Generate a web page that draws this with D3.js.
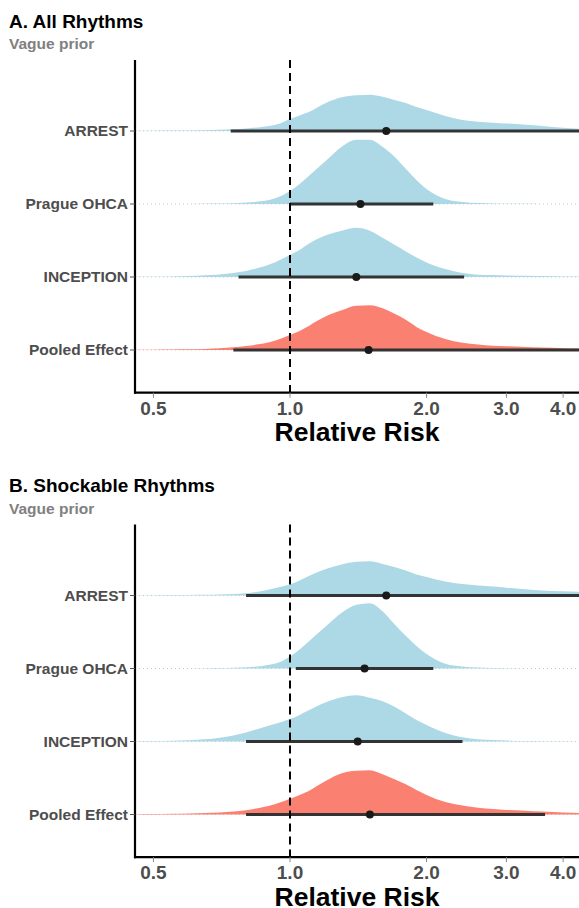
<!DOCTYPE html>
<html>
<head>
<meta charset="utf-8">
<script src="https://cdn.jsdelivr.net/npm/d3@7"></script>
<style>
  body { margin: 0; background: #fff; }
  text { font-family: "Liberation Sans", Arial, Helvetica, sans-serif; font-weight: bold; }
</style>
</head>
<body>
<div id="app"></div>
<script>
// study rows, top to bottom
const studies = ["ARREST", "Prague OHCA", "INCEPTION", "Pooled Effect"]
const xTicks = [0.5, 1, 2, 3, 4]
const xTickLabels = ["0.5", "1.0", "2.0", "3.0", "4.0"]

// relative risk grid where the densities were read
const rrGrid = [0.45, 0.5, 0.55, 0.6, 0.65, 0.7, 0.75, 0.8, 0.85, 0.9, 0.95, 1.0, 1.05, 1.1, 1.2, 1.3, 1.4, 1.5, 1.6, 1.7, 1.8, 1.9, 2.0, 2.2, 2.4, 2.6, 2.8, 3.0, 3.3, 3.6, 4.0, 4.4]

// A. all rhythms - posterior densities
const densAllArrest = [0.2, 0.3, 0.4, 0.6, 0.8, 1.2, 1.8, 2.6, 3.6, 5.0, 7.5, 12, 15.5, 19, 28, 33.5, 35.5, 36, 34, 31, 28, 24, 21, 15, 11, 9.3, 8.3, 7.5, 6.2, 5, 3.2, 2]
const densAllPrague = [0, 0, 0.05, 0.1, 0.2, 0.4, 0.8, 1.5, 2.5, 4, 7.5, 13, 20, 28, 43, 57, 64, 64, 57, 47, 35, 24, 15, 5, 2, 1, 0.6, 0.3, 0.15, 0.05, 0, 0]
const densAllInception = [0.2, 0.3, 0.5, 1, 1.7, 2.5, 4, 6, 9, 12.5, 17, 22, 27, 33, 41.5, 46, 49, 46, 39, 32, 25.5, 19.5, 14.5, 8, 4, 2.3, 1.9, 1.6, 1.3, 1, 0.6, 0.4]
const densAllPooled = [0.2, 0.3, 0.5, 0.7, 1.1, 1.7, 2.7, 4, 5.6, 7.8, 11, 15, 19, 24, 33.5, 39.5, 44, 44.5, 41.5, 36, 30, 23, 18, 11, 7.3, 5.5, 4.3, 3.8, 3.1, 2.4, 1.8, 1.4]
const medianAll = [1.63, 1.43, 1.40, 1.49]
const lowerAll = [0.74, 1.0, 0.77, 0.75]
const upperAll = [5.6, 2.07, 2.42, 4.8]

// B. shockable rhythms - posterior densities
const densShockArrest = [0.2, 0.3, 0.4, 0.6, 0.8, 1.1, 1.6, 2.3, 3.8, 6, 8.5, 11, 15, 19.5, 26.5, 31, 33.5, 34, 31.5, 28.5, 25, 21, 18.5, 14, 11.5, 10, 9, 7.8, 6.2, 5, 4.2, 3.6]
const densShockPrague = [0, 0, 0.05, 0.1, 0.2, 0.4, 0.7, 1.2, 2.1, 3.7, 6.5, 12, 19, 27, 42, 55.5, 63.5, 65, 57, 44, 32.5, 22.5, 14.5, 4.8, 2, 0.9, 0.4, 0.2, 0.1, 0, 0, 0]
const densShockInception = [0.2, 0.4, 0.7, 1.3, 2.2, 3.8, 6, 9, 12.5, 16, 19, 22.3, 26.5, 31, 39, 44, 46, 43.5, 40, 34.5, 28, 21.5, 16.5, 8.5, 4.3, 2.2, 1.4, 0.9, 0.5, 0.3, 0.2, 0.1]
const densShockPooled = [0.3, 0.5, 0.8, 1.1, 1.5, 2.1, 3, 4.3, 6.3, 8.6, 12, 15.7, 19.5, 23.5, 33.5, 41, 43.5, 44, 40, 35, 30, 24.5, 19.5, 12.5, 9, 6.6, 5.5, 4.6, 3.8, 3, 2.1, 1.5]
const medianShock = [1.63, 1.46, 1.41, 1.50]
const lowerShock = [0.80, 1.03, 0.80, 0.80]
const upperShock = [5.8, 2.07, 2.40, 3.65]

const blue = "#add8e6"
const salmon = "#fa8072"

const W = 579, H = 908
const svg = d3.select("#app").append("svg").attr("width", W).attr("height", H)

const panels = [
  {title: "A. All Rhythms", top: 0, dens: [densAllArrest, densAllPrague, densAllInception, densAllPooled],
   med: medianAll, lo: lowerAll, hi: upperAll},
  {title: "B. Shockable Rhythms", top: 464.5, dens: [densShockArrest, densShockPrague, densShockInception, densShockPooled],
   med: medianShock, lo: lowerShock, hi: upperShock}
]

const left = 135, right = 579
const x = d3.scaleLog().domain([0.4553, 4.336]).range([left, right])

panels.forEach((p, pi) => {
  const g = svg.append("g").attr("transform", `translate(0,${p.top})`)
  const top = 60, bottom = 392.7

  // rows: index 4 at top (ARREST) .. 1 at bottom (Pooled)
  const y = d3.scaleLinear().domain([0.415, 4.973]).range([bottom, top])
  const rowY = i => y(studies.length - i)
  const h = d3.scaleLinear().domain([0, 65.4]).range([0, 65.7])

  g.append("text").attr("x", 9).attr("y", 27.5)
    .style("font-size", "19px").attr("fill", "#000").text(p.title)
  g.append("text").attr("x", 9).attr("y", 49)
    .style("font-size", "15.5px").attr("fill", "#808080").text("Vague prior")

  const clipId = "clip" + pi
  g.append("clipPath").attr("id", clipId).append("rect")
    .attr("x", left).attr("y", top - 5).attr("width", right - left).attr("height", bottom - top + 5)
  const plot = g.append("g").attr("clip-path", `url(#${clipId})`)

  // dotted guide lines
  plot.selectAll(".guide").data(studies).join("line")
    .attr("x1", left).attr("x2", right)
    .attr("y1", (d, i) => rowY(i)).attr("y2", (d, i) => rowY(i))
    .attr("stroke", "#c8c8c8").attr("stroke-width", 1).attr("stroke-dasharray", "1,3")

  // densities
  studies.forEach((s, i) => {
    const pts = rrGrid.map((r, k) => [r, p.dens[i][k]])
    const area = d3.area()
      .x(d => x(d[0]))
      .y0(rowY(i))
      .y1(d => rowY(i) - h(d[1]))
      .curve(d3.curveMonotoneX)
    plot.append("path").datum(pts).attr("d", area)
      .attr("fill", i === 3 ? salmon : blue)
  })

  // reference line at 1
  g.append("line").attr("x1", x(1)).attr("x2", x(1)).attr("y1", top).attr("y2", bottom)
    .attr("stroke", "#000").attr("stroke-width", 2).attr("stroke-dasharray", "8,5")

  // intervals and medians
  plot.selectAll(".ci").data(studies).join("line")
    .attr("x1", (d, i) => x(p.lo[i])).attr("x2", (d, i) => x(p.hi[i]))
    .attr("y1", (d, i) => rowY(i)).attr("y2", (d, i) => rowY(i))
    .attr("stroke", "#333").attr("stroke-width", 3)
  plot.selectAll(".med").data(studies).join("circle")
    .attr("cx", (d, i) => x(p.med[i])).attr("cy", (d, i) => rowY(i)).attr("r", 4)
    .attr("fill", "#1a1a1a")

  // y axis
  g.append("line").attr("x1", left).attr("x2", left).attr("y1", top).attr("y2", bottom + 1)
    .attr("stroke", "#000").attr("stroke-width", 2.2)
  g.selectAll(".ytick").data(studies).join("line")
    .attr("x1", left - 5).attr("x2", left).attr("y1", (d, i) => rowY(i)).attr("y2", (d, i) => rowY(i))
    .attr("stroke", "#555").attr("stroke-width", 1)
  g.selectAll(".ylab").data(studies).join("text")
    .attr("x", left - 7).attr("y", (d, i) => rowY(i)).attr("dy", "0.35em")
    .attr("text-anchor", "end").style("font-size", "15.5px").attr("fill", "#4d4d4d")
    .text(d => d)

  // x axis
  g.append("line").attr("x1", left - 1).attr("x2", right).attr("y1", bottom).attr("y2", bottom)
    .attr("stroke", "#000").attr("stroke-width", 2.2)
  g.selectAll(".xtick").data(xTicks).join("line")
    .attr("x1", d => x(d)).attr("x2", d => x(d)).attr("y1", bottom).attr("y2", bottom + 5)
    .attr("stroke", "#888").attr("stroke-width", 1)
  g.selectAll(".xlab").data(xTicks).join("text")
    .attr("x", d => x(d)).attr("y", bottom + 22)
    .attr("text-anchor", "middle").style("font-size", "19px").attr("fill", "#4d4d4d")
    .text((d, i) => xTickLabels[i])
  g.append("text").attr("x", (left + right) / 2).attr("y", 441)
    .attr("text-anchor", "middle").style("font-size", "26.5px").attr("fill", "#000")
    .text("Relative Risk")
})
</script>
</body>
</html>
